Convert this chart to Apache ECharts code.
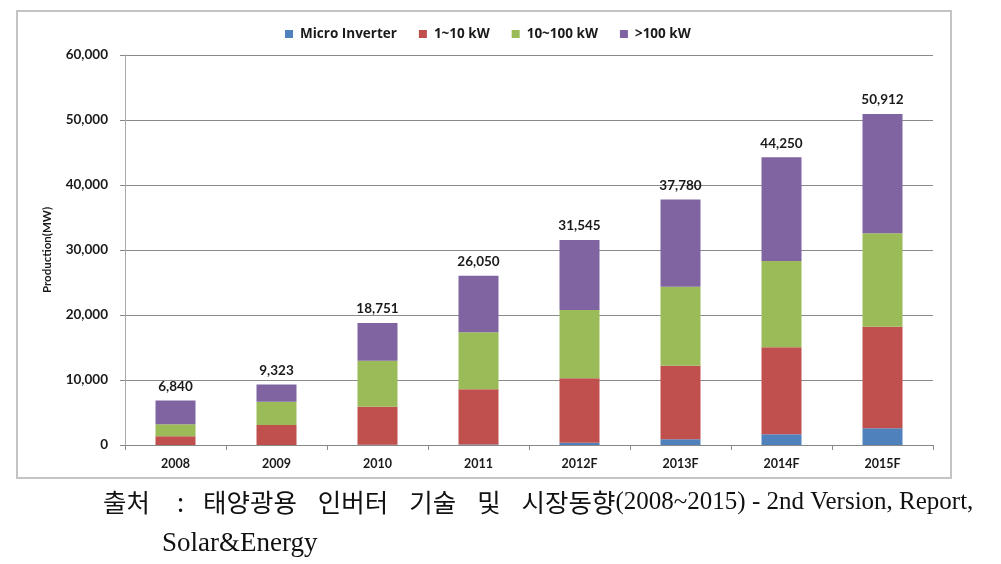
<!DOCTYPE html>
<html>
<head>
<meta charset="utf-8">
<script src="https://cdn.jsdelivr.net/npm/echarts@6/dist/echarts.min.js"></script>
<style>
html,body{margin:0;padding:0;background:#fff;}
#c{width:1001px;height:564px;}
</style>
</head>
<body>
<div id="c"></div>
<script>
var categories = ['2008','2009','2010','2011','2012F','2013F','2014F','2015F'];
var microInverter = [0, 0, 30, 80, 350, 870, 1640, 2570];
var kw1to10 = [1340, 3080, 5860, 8490, 9910, 11330, 13390, 15630];
var kw10to100 = [1840, 3580, 7080, 8760, 10510, 12150, 13270, 14360];
var kwOver100 = [3660, 2663, 5781, 8720, 10775, 13430, 15950, 18352];
var totals = [6840, 9323, 18751, 26050, 31545, 37780, 44250, 50912];
var yTicks = [0, 10000, 20000, 30000, 40000, 50000, 60000];
var seriesNames = ['Micro Inverter', '1~10 kW', '10~100 kW', '>100 kW'];
var colors = ['#4F81BD', '#C0504D', '#9BBB59', '#8064A2'];

var chart = echarts.init(document.getElementById('c'));
var font = 'Lato, "Open Sans", sans-serif';
function fmt(v){ return v.toString().replace(/\B(?=(\d{3})+(?!\d))/g, ','); }

var dataSets = [microInverter, kw1to10, kw10to100, kwOver100];
var series = dataSets.map(function(d, i){
  var s = {
    name: seriesNames[i], type: 'bar', stack: 'total', data: d,
    barWidth: 40, itemStyle: {color: colors[i]}
  };
  if (i === 3) {
    s.label = {
      show: true, position: 'top', distance: 7,
      fontFamily: font, fontWeight: 'bold', fontSize: 13.5, color: '#1a1a1a',
      formatter: function(p){ return fmt(totals[p.dataIndex]); }
    };
  }
  return s;
});

function seg(style, t){ return '{' + style + '|' + t + '}'; }
var line1 = seg('k','출처') + seg('g1',' ') + seg('k',':') + seg('g2',' ') + seg('k','태양광용') + seg('g',' ') +
  seg('k','인버터') + seg('g',' ') + seg('k','기술') + seg('g',' ') + seg('k','및') + seg('g',' ') +
  seg('k','시장동향') + seg('l','(2008~2015) - 2nd Version, Report,');
var richStyles = {
  k: {fontFamily: '"Noto Sans CJK KR", sans-serif', fontSize: 25.5, fill: '#111'},
  l: {fontFamily: '"Liberation Serif", serif', fontSize: 25, fill: '#111'},
  g: {fontSize: 25, width: 21},
  g1: {fontSize: 25, width: 27},
  g2: {fontSize: 25, width: 19}
};

chart.setOption({
  animation: false,
  backgroundColor: '#fff',
  legend: {
    top: 22, left: 280,
    itemWidth: 8, itemHeight: 8, itemGap: 22,
    icon: 'rect',
    textStyle: {fontFamily: '"Open Sans", Lato, sans-serif', fontWeight: 'bold', fontSize: 13.5, color: '#1a1a1a', padding: [0,0,0,2]},
    data: seriesNames
  },
  grid: {left: 125, right: 68, top: 55, bottom: 119},
  xAxis: {
    type: 'category', data: categories,
    axisLine: {lineStyle: {color: '#888', width: 1}},
    axisTick: {show: true, length: 5, lineStyle: {color: '#888'}},
    axisLabel: {fontFamily: font, fontWeight: 'bold', fontSize: 12.5, color: '#1a1a1a', margin: 12}
  },
  yAxis: {
    type: 'value', min: yTicks[0], max: yTicks[yTicks.length-1], interval: 10000,
    name: 'Production(MW)', nameLocation: 'middle', nameGap: 72,
    nameTextStyle: {fontFamily: font, fontWeight: 'bold', fontSize: 11.5, color: '#1a1a1a'},
    axisLine: {show: true, lineStyle: {color: '#aaa', width: 1}},
    axisTick: {show: true, length: 5, lineStyle: {color: '#888'}},
    splitLine: {lineStyle: {color: '#8a8a8a', width: 1}},
    axisLabel: {fontFamily: font, fontWeight: 'bold', fontSize: 13.5, color: '#1a1a1a', margin: 17, formatter: function(v){ return fmt(v); }}
  },
  graphic: [
    {type: 'rect', shape: {x: 17, y: 11, width: 934, height: 467}, style: {fill: 'none', stroke: '#c4c4c4', lineWidth: 2}, silent: true, z: -1},
    {type: 'text', left: 103, top: 490, style: {text: line1, rich: richStyles, fill: '#111'}},
    {type: 'text', left: 162, top: 530, style: {text: 'Solar&Energy', font: '27px "Liberation Serif", serif', fill: '#111'}}
  ],
  series: series
});
</script>
</body>
</html>
